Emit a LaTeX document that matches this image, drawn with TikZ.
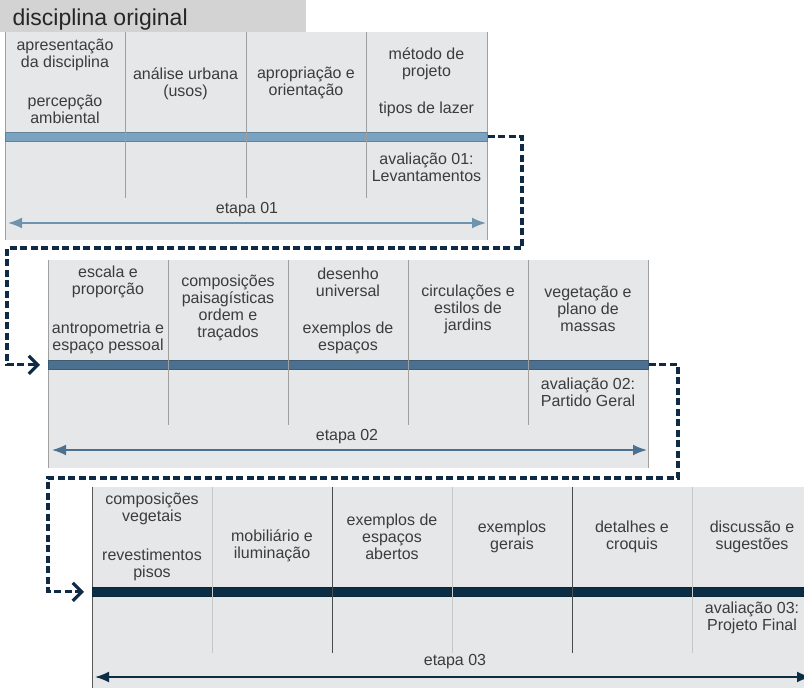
\documentclass[tikz,border=0pt]{standalone}
\usepackage{fontspec}
\setmainfont{Liberation Sans}
\usetikzlibrary{arrows.meta}
\usetikzlibrary{positioning}

\definecolor{titlegray}{HTML}{D3D3D3}
\definecolor{panelgray}{HTML}{E6E7E8}
\definecolor{textgray}{HTML}{3C3C3C}
\definecolor{edgegray}{HTML}{A0A0A0}
\definecolor{stepone}{HTML}{7AA3C2}
\definecolor{steptwo}{HTML}{4C7190}
\definecolor{stepthree}{HTML}{0B2E46}
\definecolor{linknavy}{HTML}{0E2A44}

\tikzset{
  panel/.style={fill=panelgray, inner sep=0pt, anchor=north west, minimum height=208pt},
  bar/.style={fill=#1, draw=#1!80!black, line width=0.6pt, inner sep=0pt, anchor=north west, minimum height=9pt},
  edge/.style={draw=edgegray, line width=0.9pt},
  divider/.style={draw=#1, line width=0.8pt},
  divider/.default=gray!75,
  span/.style={{Latex[length=14pt,width=11pt]}-{Latex[length=14pt,width=11pt]}, line width=1.8pt, draw=#1},
  link/.style={draw=linknavy, line width=3.2pt, dash pattern=on 7pt off 3.5pt,
    -{Straight Barb[length=9pt,width=18pt]}, shorten >=8pt},
}

\begin{document}
\begin{tikzpicture}[x=1pt, y=-1pt, every node/.style={align=center, text=textgray, font=\fontsize{16}{17}\selectfont}]
    \useasboundingbox (0,0) rectangle (804,688);

    % Heading
    \node[fill=titlegray, minimum width=306pt, minimum height=32pt, inner sep=0pt, anchor=north west] (titlebox) at (0,0) {};
    \node[anchor=base west, font=\fontsize{23}{26}\selectfont, text=black!85] (title) at (9,25) {disciplina original};

    % First stage
    \node[panel, minimum width=482pt] (panel1) at (5,32) {};
    \draw[edge] (panel1.north west) -- (panel1.south west);
    \draw[edge] (panel1.north east) -- (panel1.south east);
    \node[bar=stepone, minimum width=482pt] (bar1) at (5,132) {};
    \draw[divider] (125.5,32) -- (125.5,198);
    \draw[divider] (246,32) -- (246,198);
    \draw[divider] (366.5,32) -- (366.5,198);
    \node (s1a) at (65,55) {apresentação\\da disciplina};
    \node (s1b) at (65,109.5) {percepção\\ambiental};
    \node (s1c) at (185.5,83.5) {análise urbana\\(usos)};
    \node (s1d) at (306,83) {apropriação e\\orientação};
    \node (s1e) at (426.5,63.5) {método de\\projeto};
    \node (s1f) at (426.5,109) {tipos de lazer};
    \node (eval1) at (426.5,167.5) {avaliação 01:\\Levantamentos};
    \node (stage1) at (247,210) {etapa 01};
    \coordinate (span1l) at (8,223);
    \coordinate (span1r) at (486,223);
    \draw[span=stepone!90!black] (span1l) -- (span1r);

    % Second stage
    \node[panel, minimum width=600pt] (panel2) at (48,260) {};
    \draw[edge] (panel2.north west) -- (panel2.south west);
    \draw[edge] (panel2.north east) -- (panel2.south east);
    \node[bar=steptwo, minimum width=600pt] (bar2) at (48,360) {};
    \draw[divider] (168,260) -- (168,425);
    \draw[divider] (288,260) -- (288,425);
    \draw[divider] (408,260) -- (408,425);
    \draw[divider] (528,260) -- (528,425);
    \node (s2a) at (108,282) {escala e\\proporção};
    \node (s2b) at (108,337.5) {antropometria e\\espaço pessoal};
    \node (s2c) at (228,308) {composições\\paisagísticas\\ordem e\\traçados};
    \node (s2d) at (348,282) {desenho\\universal};
    \node (s2e) at (348,337.5) {exemplos de\\espaços};
    \node (s2f) at (468,309) {circulações e\\estilos de\\jardins};
    \node (s2g) at (588,309) {vegetação e\\plano de\\massas};
    \node (eval2) at (588,392.5) {avaliação 02:\\Partido Geral};
    \node (stage2) at (347,437) {etapa 02};
    \coordinate (span2l) at (52,450);
    \coordinate (span2r) at (647,450);
    \draw[span=steptwo] (span2l) -- (span2r);

    % Third stage
    \node[panel, minimum width=721pt, minimum height=210pt] (panel3) at (92,487) {};
    \draw[edge, draw=black!65] (panel3.north west) -- (panel3.south west);
    \node[bar=stepthree, minimum width=721pt] (bar3) at (92,587) {};
    \draw[divider=gray!45] (212,487) -- (212,653);
    \draw[divider=black!70] (332,487) -- (332,653);
    \draw[divider=gray!45] (452,487) -- (452,653);
    \draw[divider=black!70] (572,487) -- (572,653);
    \draw[divider=gray!45] (692,487) -- (692,653);
    \node (s3a) at (152,509) {composições\\vegetais};
    \node (s3b) at (152,564.5) {revestimentos\\pisos};
    \node (s3c) at (272,546) {mobiliário e\\iluminação};
    \node (s3d) at (392,537) {exemplos de\\espaços\\abertos};
    \node (s3e) at (512,537) {exemplos\\gerais};
    \node (s3f) at (632,537) {detalhes e\\croquis};
    \node (s3g) at (752,537) {discussão e\\sugestões};
    \node (eval3) at (752,618) {avaliação 03:\\Projeto Final};
    \node (stage3) at (455,662) {etapa 03};
    \coordinate (span3l) at (95,677);
    \coordinate (span3r) at (811,677);
    \draw[span=stepthree] (span3l) -- (span3r);

    % Dashed hand-over between stages
    \coordinate (bend1a) at (522,248);
    \coordinate (bend1b) at (7,248);
    \draw[link] (bar1.east) -| (bend1a) -- (bend1b) |- (bar2.west);
    \coordinate (bend2a) at (678,478);
    \coordinate (bend2b) at (48,478);
    \draw[link] (bar2.east) -| (bend2a) -- (bend2b) |- (bar3.west);
\end{tikzpicture}
\end{document}
